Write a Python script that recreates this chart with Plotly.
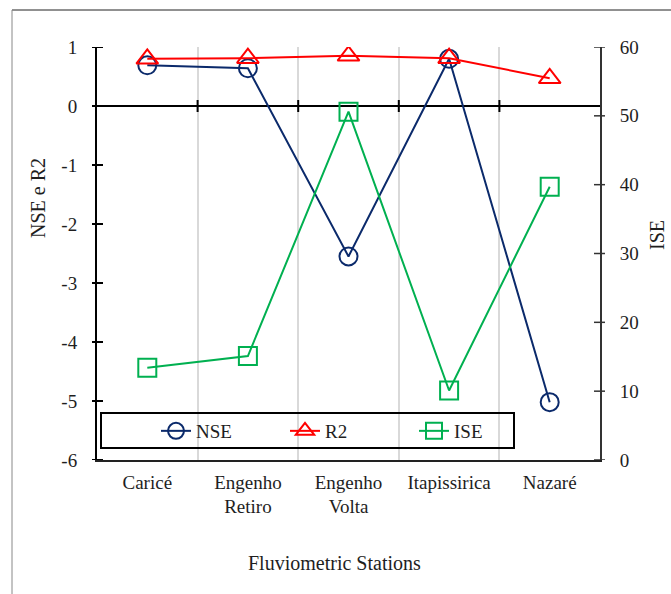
import plotly.graph_objects as go

# Station categories and performance metrics
stations = ["Caricé", "Engenho<br>Retiro", "Engenho<br>Volta", "Itapissirica", "Nazaré"]
nse = [0.69, 0.64, -2.55, 0.80, -5.02]
r2 = [0.80, 0.81, 0.85, 0.81, 0.47]
ise = [13.4, 15.1, 50.6, 10.1, 39.7]

left_ticks = [1, 0, -1, -2, -3, -4, -5, -6]
left_labels = ["1", "0", "-1", "-2", "-3", "-4", "-5", "-6"]
right_ticks = [60, 50, 40, 30, 20, 10, 0]

W, H = 671, 594
L, R, T, B = 97, 71, 47, 134
PW, PH = W - L - R, H - T - B

FONT = "Liberation Serif, DejaVu Serif, serif"
TXT = "#1e1e1e"
NAVY, RED, GREEN = "#0b2a6b", "#ff0000", "#00b050"


def px_x(p):
    return (p - L) / PW


def px_y(p):
    return (H - B - p) / PH


xpos = list(range(1, len(stations) + 1))
bounds = [i + 0.5 for i in xpos[:-1]]

fig = go.Figure()
fig.add_trace(go.Scatter(
    x=xpos, y=nse, name="NSE", mode="lines+markers",
    line=dict(color=NAVY, width=2),
    marker=dict(symbol="circle-open", size=18, color=NAVY, line=dict(width=2)),
))
fig.add_trace(go.Scatter(
    x=xpos, y=r2, name="R2", mode="lines+markers",
    line=dict(color=RED, width=2),
    marker=dict(symbol="triangle-up-open", size=19, color=RED, line=dict(width=2)),
))
fig.add_trace(go.Scatter(
    x=xpos, y=ise, name="ISE", mode="lines+markers", yaxis="y2",
    line=dict(color=GREEN, width=2),
    marker=dict(symbol="square-open", size=18, color=GREEN, line=dict(width=2)),
))

shapes = []
# cross ticks on the zero line at category boundaries
for b in bounds:
    shapes.append(dict(type="line", xref="x", yref="y", x0=b, x1=b,
                       ysizemode="pixel", yanchor=0, y0=-6, y1=6,
                       line=dict(color="black", width=2)))
# cross ticks on the left axis
for v in left_ticks:
    shapes.append(dict(type="line", xref="paper", yref="y", y0=v, y1=v,
                       xsizemode="pixel", xanchor=0, x0=-5, x1=6,
                       line=dict(color="black", width=2)))
# cross ticks on the right axis
for v in right_ticks:
    shapes.append(dict(type="line", xref="paper", yref="y2", y0=v, y1=v,
                       xsizemode="pixel", xanchor=1, x0=-6, x1=5,
                       line=dict(color="#333333", width=1.5)))
# legend frame
shapes.append(dict(type="rect", xref="paper", yref="paper",
                   x0=px_x(101), x1=px_x(514), y0=px_y(448), y1=px_y(413),
                   line=dict(color="black", width=2)))
# outer chart frame (top and left edges)
shapes.append(dict(type="line", xref="paper", yref="paper",
                   x0=px_x(12), x1=px_x(671), y0=px_y(10), y1=px_y(10),
                   line=dict(color="#222222", width=1)))
shapes.append(dict(type="line", xref="paper", yref="paper",
                   x0=px_x(12), x1=px_x(12), y0=px_y(10), y1=px_y(600),
                   line=dict(color="#888888", width=1)))

annotations = [
    dict(text="Fluviometric Stations", xref="paper", yref="paper",
         x=px_x(334), y=px_y(563), xanchor="center", yanchor="middle", showarrow=False,
         font=dict(family=FONT, size=20, color=TXT)),
    dict(text="NSE e R2", xref="paper", yref="paper", textangle=-90,
         x=px_x(38), y=px_y(198), xanchor="center", yanchor="middle", showarrow=False,
         font=dict(family=FONT, size=20, color=TXT)),
    dict(text="ISE", xref="paper", yref="paper", textangle=-90,
         x=px_x(657), y=px_y(235), xanchor="center", yanchor="middle", showarrow=False,
         font=dict(family=FONT, size=20, color=TXT)),
]

fig.update_layout(
    width=W, height=H,
    margin=dict(l=L, r=R, t=T, b=B, autoexpand=False),
    paper_bgcolor="white", plot_bgcolor="white",
    font=dict(family=FONT, size=19, color=TXT),
    showlegend=True,
    legend=dict(orientation="h", x=px_x(156), y=px_y(412), xanchor="left", yanchor="top",
                bgcolor="rgba(0,0,0,0)", borderwidth=0,
                entrywidth=84, font=dict(family=FONT, size=19, color=TXT),
                itemsizing="trace"),
    xaxis=dict(
        range=[0.5, 5.5], tickmode="array", tickvals=xpos, ticktext=stations,
        showgrid=False, zeroline=False, ticks="", ticklabelstandoff=4,
        showline=True, linecolor="#222222", linewidth=1.5,
        minor=dict(tick0=0.5, dtick=1, showgrid=True, gridcolor="#d9d9d9", gridwidth=2),
        tickfont=dict(family=FONT, size=19, color=TXT),
    ),
    yaxis=dict(
        range=[-6, 1], tickmode="array", tickvals=left_ticks, ticktext=left_labels,
        showgrid=False, zeroline=True, zerolinecolor="black", zerolinewidth=2,
        showline=True, linecolor="black", linewidth=2, ticks="",
        ticklabelstandoff=14, tickfont=dict(family=FONT, size=19, color=TXT),
    ),
    yaxis2=dict(
        range=[0, 60], tickmode="array", tickvals=right_ticks, overlaying="y", side="right",
        showgrid=False, zeroline=False, showline=True, linecolor="#333333", linewidth=2,
        ticks="", ticklabelstandoff=14, tickfont=dict(family=FONT, size=19, color=TXT),
    ),
    shapes=shapes,
    annotations=annotations,
)

fig.write_html("out.html")
